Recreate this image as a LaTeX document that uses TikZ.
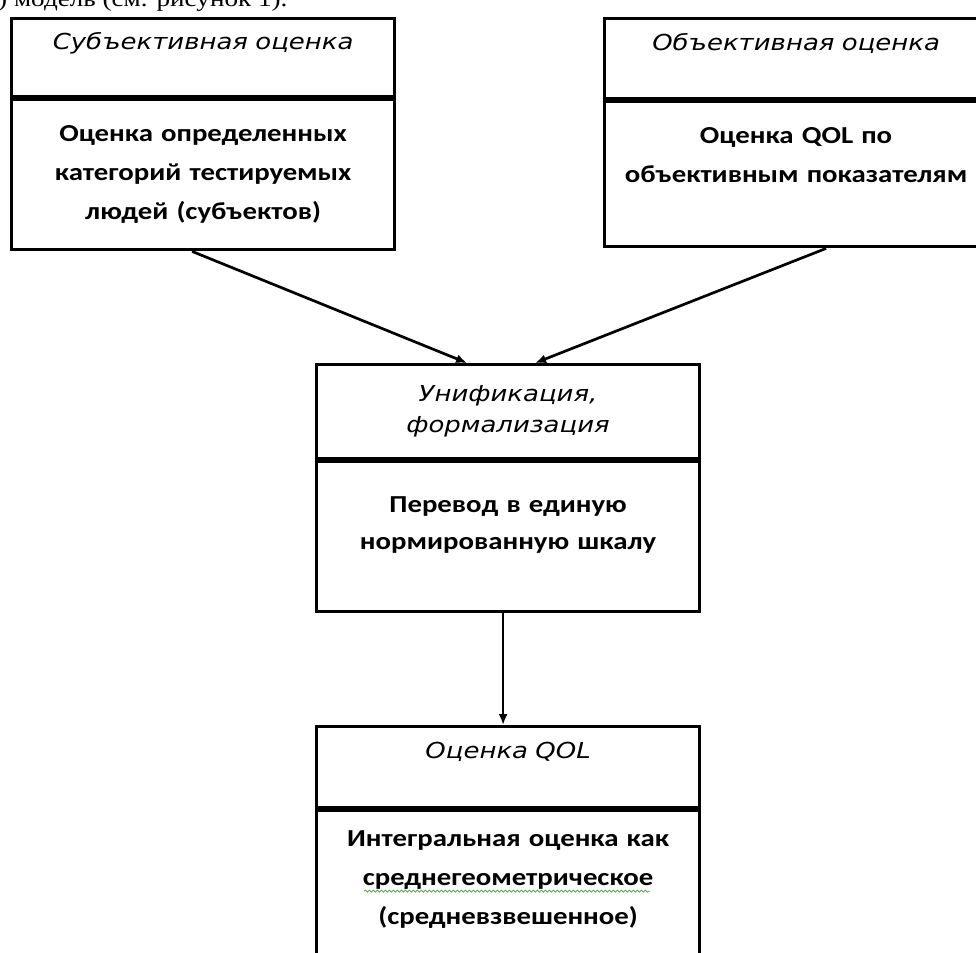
\documentclass[tikz,border=0pt]{standalone}
\usepackage{fontspec}
\setmainfont[FakeStretch=1.18]{Carlito}
\newfontfamily\headfont[FakeStretch=1.18]{DejaVu Sans}
\newfontfamily\pagefont[FakeStretch=1.18]{Liberation Serif}
\usetikzlibrary{positioning,arrows.meta,decorations.pathmorphing}
\definecolor{spellgreen}{RGB}{90, 170, 80}
\tikzset{
    block/.style={rectangle, draw, line width=3.2pt, minimum width=383pt, inner sep=4pt, align=center, text width=370pt},
    head/.style={block, font=\headfont\itshape\fontsize{22}{34}\selectfont},
    body/.style={block, font=\bfseries\fontsize{24.4}{39}\selectfont},
    flow arrow/.style={-{Latex[length=11pt,width=9pt]}, line width=2.7pt},
    spell mark/.style={spellgreen, line width=0.9pt, decorate, decoration={snake, amplitude=1pt, segment length=4pt}}
}
\begin{document}
\begin{tikzpicture}[x=1pt, y=-1pt]
\useasboundingbox (0,0) rectangle (976,952);
\clip (0,0) rectangle (976,952);
\node[anchor=base west, inner sep=0, font=\pagefont\fontsize{23}{28}\selectfont] (pageline) at (-2,7) {) модель (см. рисунок 1).};

% top row
\node[head, minimum height=78pt, anchor=north west] (subjhead) at (10,17) {Субъективная оценка\\ \mbox{}};
\node[body, minimum height=150pt, anchor=north] (subjbody) at (subjhead.south) {Оценка определенных\\категорий тестируемых\\людей (субъектов)};
\node[head, minimum height=80pt, anchor=north west] (objhead) at (603,17) {Объективная оценка\\ \mbox{}};
\node[body, minimum height=145pt, anchor=north] (objbody) at (objhead.south) {Оценка QOL по\\объективным показателям\\ \mbox{}};

% middle
\node[head, minimum height=94pt, anchor=north west] (unifhead) at (315,363) {Унификация,\\[-3pt]формализация};
\node[body, minimum height=150pt, anchor=north] (unifbody) at (unifhead.south) {Перевод в единую\\[-2pt]нормированную шкалу\\[-12pt]\mbox{}};

% bottom
\node[head, minimum height=81pt, anchor=north west] (qolhead) at (315,725) {Оценка QOL\\ \mbox{}};
\node[body, inner ysep=20pt, anchor=north] (qolbody) at (qolhead.south) {Интегральная оценка как\\среднегеометрическое\\(средневзвешенное)\\ \mbox{}};
\draw[spell mark] ([xshift=-144pt,yshift=-82pt]qolbody.north) -- ([xshift=142pt,yshift=-82pt]qolbody.north);

\draw[flow arrow] ([xshift=-11pt]subjbody.south) -- ([xshift=-41pt]unifhead.north);
\draw[flow arrow] ([xshift=30pt]objbody.south) -- ([xshift=27pt]unifhead.north);
\draw[flow arrow] ([xshift=-5pt]unifbody.south) -- ([xshift=-5pt]qolhead.north);
\end{tikzpicture}
\end{document}
